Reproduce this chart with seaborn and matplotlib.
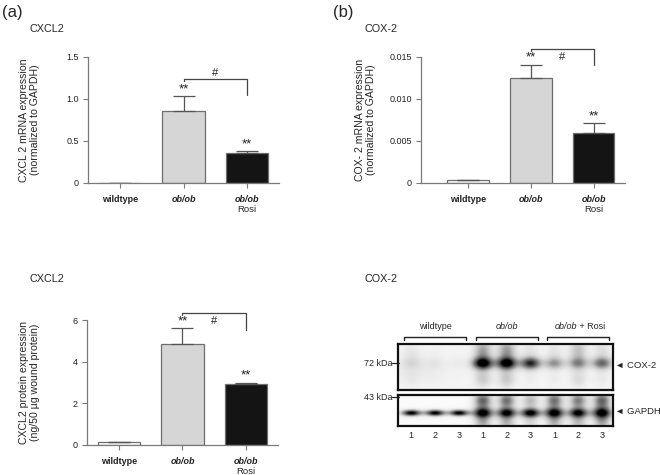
import numpy as np
import matplotlib
matplotlib.use("Agg")
import matplotlib.pyplot as plt
import seaborn as sns

sns.set_theme(style="white")
plt.rcParams['font.family'] = ['Liberation Sans', 'DejaVu Sans']

# ---------------- data ----------------
groups = ["wildtype", "ob/ob", "ob/ob Rosi"]

cxcl2_mrna = [0.0, 0.855, 0.357]
cxcl2_mrna_err = [0.0, 0.175, 0.02]

cox2_mrna = [0.0003, 0.0125, 0.0059]
cox2_mrna_err = [0.0, 0.0016, 0.0012]

cxcl2_prot = [0.16, 4.85, 2.91]
cxcl2_prot_err = [0.0, 0.78, 0.09]

lanes = ["1", "2", "3", "1", "2", "3", "1", "2", "3"]
blot_groups = ["wildtype", "ob/ob", "ob/ob + Rosi"]
cox2_band = [0.10, 0.05, 0.05, 0.95, 0.92, 0.78, 0.40, 0.42, 0.55]
cox2_smear = [0.08, 0.02, 0.02, 0.40, 0.42, 0.12, 0.12, 0.28, 0.15]
cox2_spread = [0.13] * 9
gapdh_band = [1.0, 1.0, 1.0, 1.0, 0.95, 1.0, 1.0, 0.95, 1.0]
gapdh_smear = [0.0, 0.0, 0.0, 0.65, 0.60, 0.35, 0.60, 0.55, 0.65]
gapdh_spread = [0.10, 0.10, 0.10, 0.17, 0.16, 0.15, 0.17, 0.16, 0.18]

W, H = 660, 475
fig = plt.figure(figsize=(W / 100, H / 100), dpi=100)


def rect(l, t, r, b):
    return [l / W, (H - b) / H, (r - l) / W, (b - t) / H]


def fxy(x, y):
    return x / W, (H - y) / H


colors = ["white", "#d6d6d6", "#141414"]
edge = "#6e6e6e"
TICK = 6.5


def bar_panel(r, vals, errs, yticks, yticklabels, ylabel, xlim, labx,
              bracket, hash_y):
    ax = fig.add_axes(rect(*r))
    sns.barplot(x=groups, y=vals, hue=groups, palette=colors, ax=ax,
                width=0.66, edgecolor=edge, linewidth=0.9, legend=False,
                errorbar=None)
    x = np.arange(len(vals))
    ax.errorbar(x, vals, yerr=[np.zeros(len(vals)), errs], fmt="none",
                ecolor="#555555", elinewidth=0.9, capsize=8, capthick=0.9)
    ax.set_xlim(*xlim)
    ax.set_ylim(yticks[0], yticks[-1])
    ax.set_yticks(yticks)
    ax.set_yticklabels(yticklabels, fontsize=TICK)
    ax.set_xticks(x)
    ax.set_xticklabels(["wildtype", "ob/ob", "ob/ob"], fontsize=TICK,
                       fontweight="bold")
    for i, t in enumerate(ax.get_xticklabels()):
        if i > 0:
            t.set_style("italic")
    ax.annotate("Rosi", xy=(2, 0), xycoords=("data", "axes fraction"),
                xytext=(0, -19), textcoords="offset points", ha="center",
                va="center", fontsize=TICK + 0.3)
    for s in ["top", "right"]:
        ax.spines[s].set_visible(False)
    for s in ["left", "bottom"]:
        ax.spines[s].set_color("#7a7a7a")
        ax.spines[s].set_linewidth(0.9)
    ax.tick_params(axis="both", which="both", direction="out", length=3.5,
                   width=0.8, color="#7a7a7a", pad=3, labelcolor="#222222")
    ax.tick_params(axis="y", left=True)
    ax.tick_params(axis="x", bottom=True, pad=5)
    ax.set_xlabel("")
    ax.set_ylabel(ylabel, fontsize=7.6, linespacing=1.1)
    ax.yaxis.set_label_coords(labx, 0.5)
    # significance stars
    for i in (1, 2):
        ax.annotate("**", xy=(i, vals[i] + errs[i]), xytext=(0, 0.5),
                    textcoords="offset points", ha="center", va="bottom",
                    fontsize=9.5, color="#222222")
    # bracket
    y_top, y_down = bracket
    ax.plot([1, 1, 2, 2], [y_top - (y_top - y_down) * 0.12, y_top, y_top, y_down],
            color="#444444", lw=0.9, clip_on=False)
    ax.text(1.5, hash_y, "#", ha="center", va="center", fontsize=8,
            color="#222222")
    return ax


bar_panel((88, 57, 279, 183), cxcl2_mrna, cxcl2_mrna_err,
          [0, 0.5, 1.0, 1.5], ["0", "0.5", "1.0", "1.5"],
          "CXCL 2 mRNA expression\n(normalized to GAPDH)", (-0.5, 2.5),
          -0.25, (1.24, 1.05), 1.31)

bar_panel((421, 57, 625, 183), cox2_mrna, cox2_mrna_err,
          [0, 0.005, 0.010, 0.015], ["0", "0.005", "0.010", "0.015"],
          "COX- 2 mRNA expression\n(normalized to GAPDH)", (-0.75, 2.5),
          -0.22, (0.01595, 0.01405), 0.0150)

bar_panel((87, 320, 278, 445), cxcl2_prot, cxcl2_prot_err,
          [0, 2, 4, 6], ["0", "2", "4", "6"],
          "CXCL2 protein expression\n(ng/50 µg wound protein)", (-0.5, 2.5),
          -0.246, (6.35, 5.52), 5.95)

# ---------------- western blot ----------------
xlim_b = (-0.55, 8.45)
xs = np.linspace(*xlim_b, 400)


def blot_image(band, smear, spread, yc, sx, smear_up, smear_down, base, haze):
    ys = np.linspace(0, 1, 120)
    X, Y = np.meshgrid(xs, ys)
    img = np.full(X.shape, base)
    # faint diffuse haze
    img += haze * np.exp(-((X - 0.3) / 1.6) ** 2) * np.exp(-((Y - 0.55) / 0.4) ** 2)
    for i, (a, s, sy) in enumerate(zip(band, smear, spread)):
        gx = np.exp(-((X - i) / sx) ** 2)
        img += a * gx * np.exp(-((Y - yc) / sy) ** 2)
        gs = np.exp(-((X - i) / (sx * 0.9)) ** 2)
        img += s * gs * np.exp(-((Y - (yc - smear_up)) / (0.26)) ** 2)
        img += s * 0.6 * gs * np.exp(-((Y - (yc + smear_down)) / (0.22)) ** 2)
    return np.clip(img, 0, 1)


ax_u = fig.add_axes(rect(398, 344, 613, 390))
img_u = blot_image(cox2_band, cox2_smear, cox2_spread, 0.42, 0.42, 0.27, 0.33,
                   0.07, 0.08)
ax_u.imshow(img_u, cmap="Greys", vmin=0, vmax=1.0, aspect="auto",
            extent=(xlim_b[0], xlim_b[1], 1, 0), interpolation="bilinear")
ax_u.set_xlim(*xlim_b)
ax_u.set_ylim(1, 0)

ax_l = fig.add_axes(rect(398, 395, 613, 426))
img_l = blot_image(gapdh_band, gapdh_smear, gapdh_spread, 0.58, 0.40, 0.40,
                   0.32, 0.04, 0.0)
ax_l.imshow(img_l, cmap="Greys", vmin=0, vmax=1.0, aspect="auto",
            extent=(xlim_b[0], xlim_b[1], 1, 0), interpolation="bilinear")
ax_l.set_xlim(*xlim_b)
ax_l.set_ylim(1, 0)

for ax in (ax_u, ax_l):
    ax.set_xticks([])
    ax.set_yticks([])
    for s in ax.spines.values():
        s.set_visible(True)
        s.set_color("#111111")
        s.set_linewidth(1.6)

# lane numbers
for i, lab in enumerate(lanes):
    ax_l.annotate(lab, xy=(i, 0), xycoords=("data", "axes fraction"),
                  xytext=(0, -7), textcoords="offset points", ha="center",
                  va="center", fontsize=TICK, color="#222222")

# group brackets
for g, name in enumerate(blot_groups):
    x0, x1 = 3 * g - 0.3, 3 * g + 2.3
    ax_u.plot([x0, x0, x1, x1], [1.09, 1.15, 1.15, 1.09], color="#222222",
              lw=1.0, transform=ax_u.get_xaxis_transform(), clip_on=False)
    xc = 3 * g + 1
    if g == 0:
        ax_u.text(xc, 1.37, name, transform=ax_u.get_xaxis_transform(),
                  ha="center", va="center", fontsize=TICK)
    elif g == 1:
        ax_u.text(xc, 1.37, name, transform=ax_u.get_xaxis_transform(),
                  ha="center", va="center", fontsize=TICK, style="italic")
    else:
        ax_u.text(xc - 0.05, 1.37, "ob/ob", transform=ax_u.get_xaxis_transform(),
                  ha="right", va="center", fontsize=TICK, style="italic")
        ax_u.text(xc - 0.05, 1.37, " + Rosi", transform=ax_u.get_xaxis_transform(),
                  ha="left", va="center", fontsize=TICK)

# markers
fig.text(*fxy(392, 363), "72 kDa", ha="right", va="center", fontsize=TICK)
fig.add_artist(plt.Line2D([392 / W, 399 / W], [(H - 363) / H] * 2,
                          color="#222222", lw=0.9))
fig.text(*fxy(392, 397), "43 kDa", ha="right", va="center", fontsize=TICK)
fig.add_artist(plt.Line2D([392 / W, 399 / W], [(H - 397) / H] * 2,
                          color="#222222", lw=0.9))
fig.text(*fxy(615, 365), "◄ COX-2", ha="left", va="center", fontsize=TICK + 0.3)
fig.text(*fxy(615, 411), "◄ GAPDH", ha="left", va="center", fontsize=TICK + 0.3)

# titles / panel labels
fig.text(*fxy(2, 12), "(a)", ha="left", va="center", fontsize=12)
fig.text(*fxy(333, 12), "(b)", ha="left", va="center", fontsize=12)
fig.text(*fxy(30, 29), "CXCL2", ha="left", va="center", fontsize=7.8)
fig.text(*fxy(365, 29), "COX-2", ha="left", va="center", fontsize=7.8)
fig.text(*fxy(30, 279), "CXCL2", ha="left", va="center", fontsize=7.8)
fig.text(*fxy(365, 279), "COX-2", ha="left", va="center", fontsize=7.8)

fig.savefig("out.png", dpi=100)
